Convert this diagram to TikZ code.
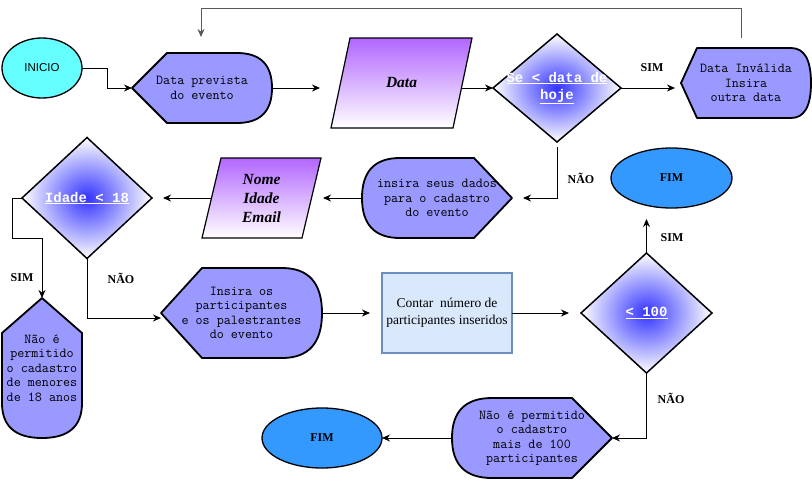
\documentclass[tikz,border=0pt]{standalone}
\usepackage{fontspec}
\setmainfont{Liberation Serif}
\newfontfamily\arialfont{Liberation Sans}
\newfontfamily\condfont{Liberation Mono}
\usetikzlibrary{shapes.geometric, arrows.meta, calc, backgrounds}

\definecolor{dispfill}{HTML}{9999FF}
\definecolor{paratop}{HTML}{B266FF}
\definecolor{diablue}{HTML}{3333FF}
\definecolor{startfill}{HTML}{66FFFF}
\definecolor{endfill}{HTML}{3399FF}
\definecolor{boxfill}{HTML}{DAE8FC}
\definecolor{boxline}{HTML}{6C8EBF}

% display shape, point on the left: node, point, curve
\newcommand{\displeft}[3]{%
  \draw[disp] (#1.west) -- ([xshift=#2]#1.north west) -- ([xshift=-#3]#1.north east)
    .. controls ([xshift=-#3/3]#1.north east) and ($(#1.north east)!1/3!(#1.east)$) .. (#1.east)
    .. controls ($(#1.south east)!1/3!(#1.east)$) and ([xshift=-#3/3]#1.south east) .. ([xshift=-#3]#1.south east)
    -- ([xshift=#2]#1.south west) -- cycle;}
% display shape, point on the right
\newcommand{\dispright}[3]{%
  \draw[disp] (#1.east) -- ([xshift=-#2]#1.north east) -- ([xshift=#3]#1.north west)
    .. controls ([xshift=#3/3]#1.north west) and ($(#1.north west)!1/3!(#1.west)$) .. (#1.west)
    .. controls ($(#1.south west)!1/3!(#1.west)$) and ([xshift=#3/3]#1.south west) .. ([xshift=#3]#1.south west)
    -- ([xshift=-#2]#1.south east) -- cycle;}
% input box
\newcommand{\iobox}[2]{%
  \path[io] ([xshift=#2]#1.north west) -- (#1.north east) -- ([xshift=-#2]#1.south east) -- (#1.south west) -- cycle;}
% decision
\newcommand{\decision}[1]{%
  \path[dec] (#1.west) -- (#1.north) -- (#1.east) -- (#1.south) -- cycle;}

\begin{document}
\begin{tikzpicture}[x=1pt, y=-1pt, thick, >={Stealth[length=8pt, width=7pt]},
  base/.style = {inner sep=0pt, outer sep=0pt, align=center},
  term/.style = {base, draw, ellipse, line width=1.3pt},
  txt/.style = {base, font=\ttfamily\fontsize{13.7}{14.5}\selectfont},
  cond/.style = {base, text=white, font=\condfont\bfseries\fontsize{14}{17}\selectfont},
  inp/.style = {base, font=\bfseries\itshape\fontsize{15.5}{19}\selectfont},
  disp/.style = {draw, fill=dispfill, line width=1.8pt, line join=round},
  io/.style = {draw, line width=1.2pt, top color=paratop, bottom color=white},
  dec/.style = {draw, line width=1.5pt, inner color=diablue, outer color=white},
  lbl/.style = {font=\bfseries\fontsize{12}{14}\selectfont},
  arr/.style = {->, line width=1pt}]
\useasboundingbox (0,0) rectangle (812,480);

\node[term, fill=startfill, minimum width=80, minimum height=60, font=\arialfont\fontsize{11.5}{13}\selectfont] (1) at (42,68) {INICIO};
\node[txt, minimum width=140, minimum height=70] (2) at (202,88) {Data prevista\\do evento};
\node[inp, minimum width=141, minimum height=90] (3) at (401.5,83) {Data};
\node[cond, minimum width=128, minimum height=108] (4) at (557,88) {\underline{Se < data de}\\\underline{hoje}};
\node[txt, minimum width=130, minimum height=70] (5) at (746,83) {Data Inválida\\Insira\\outra data};
\node[txt, minimum width=150, minimum height=80] (6) at (437,198) {insira seus dados\\para o cadastro\\do evento};
\node[inp, minimum width=119, minimum height=80] (7) at (261.5,198) {Nome\\Idade\\Email};
\node[cond, minimum width=130, minimum height=121] (8) at (87,198) {\underline{Idade < 18}};
\node[txt, minimum width=80, minimum height=140] (9) at (42,368) {Não é\\permitido\\o cadastro\\de menores\\de 18 anos};
\node[txt, minimum width=161, minimum height=90] (10) at (241.5,313) {Insira os\\participantes\\e os palestrantes\\do evento};
\node[base, draw=boxline, fill=boxfill, line width=1.5pt, minimum width=130, minimum height=80, font=\fontsize{13.5}{17}\selectfont] (11) at (447,313) {Contar\ \ número de\\participantes inseridos};
\node[cond, minimum width=131, minimum height=120] (12) at (646.5,313) {\underline{< 100}};
\node[term, fill=endfill, minimum width=121, minimum height=60, font=\bfseries\fontsize{12}{14}\selectfont] (13) at (671.5,178) {FIM};
\node[txt, minimum width=160, minimum height=80] (14) at (532,438) {Não é permitido\\o cadastro\\mais de 100\\participantes};
\node[term, fill=endfill, minimum width=120, minimum height=60, font=\bfseries\fontsize{12}{14}\selectfont] (15) at (322,438) {FIM};

\begin{scope}[on background layer]
\displeft{2}{35}{35}
\iobox{3}{19}
\decision{4}
\displeft{5}{16}{20}
\dispright{6}{38}{38}
\iobox{7}{19}
\decision{8}
\draw[disp] (9.north) -- ([yshift=-35pt]9.north east) -- ([yshift=35pt]9.south east)
  .. controls ([yshift=35pt/3]9.south east) and ($(9.south east)!1/3!(9.south)$) .. (9.south)
  .. controls ($(9.south west)!1/3!(9.south)$) and ([yshift=35pt/3]9.south west) .. ([yshift=35pt]9.south west)
  -- ([yshift=-35pt]9.north west) -- cycle;
\displeft{10}{41}{40}
\decision{12}
\dispright{14}{40}{40}
\end{scope}

\node[lbl] (s1) at (652,68) {SIM};
\node[lbl] (n1) at (581,178) {NÃO};
\node[lbl] (s2) at (22,278) {SIM};
\node[lbl] (n2) at (121,278) {NÃO};
\node[lbl] (s3) at (672,238) {SIM};
\node[lbl] (n3) at (671,398) {NÃO};

\draw[arr] (1.east) -- ++(25,0) |- (2.west);
\draw[arr, shorten >=11pt] (2) -- (2 -| 3.west);
\draw[arr] ($(3.east)+(-11,5)$) -- (4.west);
\draw[arr, shorten >=6pt] (4.east) -- (4.east -| 5.west);
\draw[arr, black!65] ($(5.north)+(-5,-10)$) -- ++(0,-30) -| ($(2.north)+(-1,-16)$);
\draw[arr, shorten <=5pt, shorten >=11pt] (4.south) |- (6.east);
\draw[arr, shorten >=2pt] (6.west) -- (7.east);
\draw[arr, shorten >=11pt] ($(7.west)+(9.5,0)$) -- (8.east);
\draw[arr] (8.west) -- ++(-10,0) -- ++(0,40) -| (9.north);
\draw[arr] (8.south) |- ($(10.west)+(0,5)$);
\draw[arr, shorten >=12pt] (10) -- (11);
\draw[arr, shorten >=12pt] (11) -- (12);
\draw[arr, shorten >=11pt] (12.north) -- (12.north |- 13.south);
\draw[arr] (12.south) |- (14.east);
\draw[arr] (14) -- (15);
\end{tikzpicture}
\end{document}
